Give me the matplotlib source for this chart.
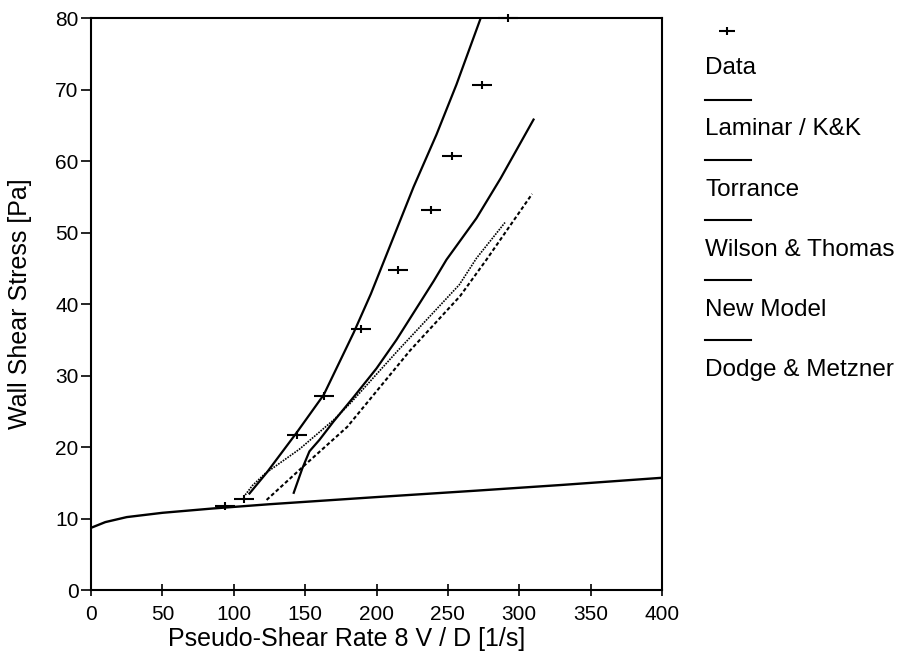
import matplotlib
matplotlib.use("Agg")
import matplotlib.pyplot as plt
from matplotlib.path import Path
from matplotlib.lines import Line2D

plt.rcParams['font.family'] = ['Liberation Sans', 'DejaVu Sans']

# Measured wall shear stress
data_x = [94, 107, 144, 163, 189, 215, 238, 253, 274, 292]
data_y = [11.8, 12.8, 21.7, 27.2, 36.5, 44.8, 53.2, 60.7, 70.7, 80.0]

# Model curves
laminar_x = [0, 10, 25, 50, 85, 125, 200, 270, 330, 400]
laminar_y = [8.7, 9.5, 10.2, 10.8, 11.4, 12.0, 13.0, 13.9, 14.7, 15.7]

torrance_x = [142, 148, 153, 160, 170, 184, 200, 214, 240, 249, 270, 287, 310]
torrance_y = [13.6, 17.0, 19.4, 21.0, 23.6, 27.0, 31.0, 35.0, 43.2, 46.2, 52.0, 57.6, 65.8]

wilson_x = [108, 113, 122, 146, 170, 182, 215, 258, 270, 290]
wilson_y = [13.3, 14.6, 16.3, 19.7, 23.8, 26.2, 33.5, 42.7, 46.4, 51.4]

newmodel_x = [111, 123, 144, 163, 184, 196, 212, 226, 242, 256, 273]
newmodel_y = [13.5, 16.4, 22.0, 27.3, 36.0, 41.4, 49.4, 56.4, 63.7, 70.7, 80.0]

dodge_x = [123, 151.5, 179.4, 223.5, 258.5, 277, 309]
dodge_y = [12.6, 17.8, 22.8, 33.5, 41.1, 46.2, 55.4]

legend_labels = ["Data", "Laminar / K&K", "Torrance", "Wilson & Thomas",
                 "New Model", "Dodge & Metzner"]

x_ticks = [0, 50, 100, 150, 200, 250, 300, 350, 400]
y_ticks = [0, 10, 20, 30, 40, 50, 60, 70, 80]

# wide cross marker: long horizontal bar, short vertical bar
cross = Path([(-1, 0), (1, 0), (0, -0.45), (0, 0.45)],
             [Path.MOVETO, Path.LINETO, Path.MOVETO, Path.LINETO])

fig = plt.figure(figsize=(9.05, 6.58), dpi=100)
ax = fig.add_axes([0.1006, 0.1033, 0.6309, 0.8693])

ink = "black"
ax.plot(laminar_x, laminar_y, color=ink, lw=1.7, solid_capstyle="round")
ax.plot(torrance_x, torrance_y, color=ink, lw=1.6)
ax.plot(wilson_x, wilson_y, color=ink, lw=1.2, linestyle=(0, (1.0, 0.7)))
ax.plot(newmodel_x, newmodel_y, color=ink, lw=1.6)
ax.plot(dodge_x, dodge_y, color=ink, lw=1.5, linestyle=(0, (1.8, 1.2)))
ax.plot(data_x, data_y, linestyle="none", marker=cross, markersize=14,
        markeredgewidth=1.5, color=ink, clip_on=False)

ax.set_xlim(0, 400)
ax.set_ylim(0, 80)
ax.set_xticks(x_ticks)
ax.set_yticks(y_ticks)
ax.tick_params(axis="both", labelsize=15, colors=ink, width=1.2)
ax.tick_params(axis="y", direction="out", length=7, pad=2)
ax.tick_params(axis="x", direction="inout", length=9, pad=6)
for s in ax.spines.values():
    s.set_linewidth(1.5)

ax.set_xlabel("Pseudo-Shear Rate 8 V / D [1/s]", fontsize=18)
ax.set_ylabel("Wall Shear Stress [Pa]", fontsize=18)
ax.xaxis.set_label_coords(0.447, -0.064)
ax.yaxis.set_label_coords(-0.103, 0.5)

# Legend column: handle drawn above each label
leg = fig.add_axes([0, 0, 1, 1])
leg.set_xlim(0, 905)
leg.set_ylim(658, 0)
leg.axis("off")
leg.patch.set_alpha(0)

text_y = [68, 129, 190, 250, 310, 370]
handle_y = [31, 100, 160, 220, 280, 340]
x0 = 705
leg.plot([727], [handle_y[0]], linestyle="none", marker=cross, markersize=12,
         markeredgewidth=1.5, color=ink)
for hy in handle_y[1:]:
    leg.add_line(Line2D([x0, x0 + 46], [hy, hy], color=ink, lw=1.5))
for lab, ty in zip(legend_labels, text_y):
    leg.text(x0, ty, lab, fontsize=17.5, ha="left", va="center", color=ink)

fig.savefig("out.png", dpi=100)
